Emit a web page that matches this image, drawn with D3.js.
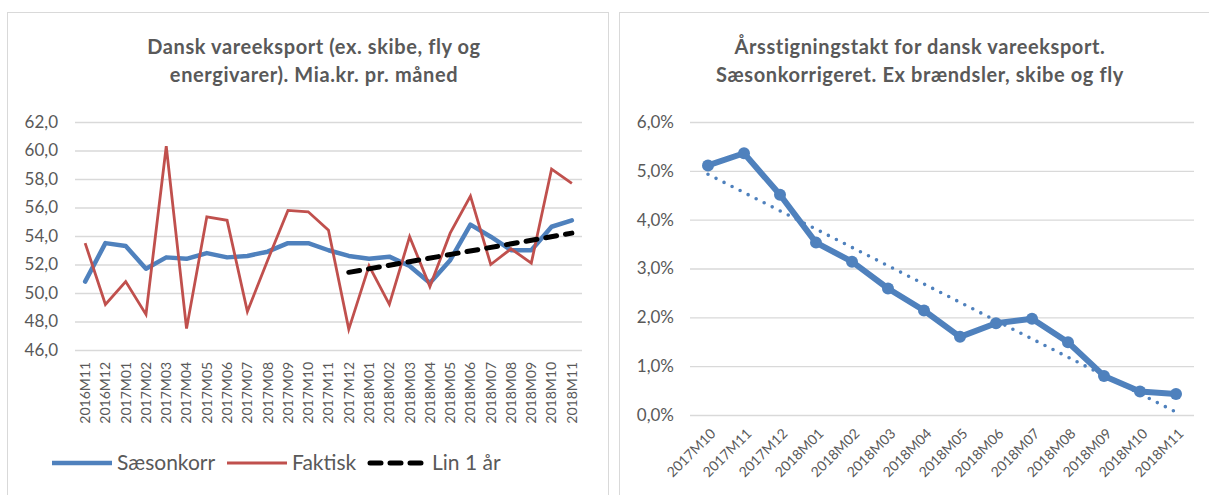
<!DOCTYPE html>
<html><head><meta charset="utf-8">
<script src="https://cdn.jsdelivr.net/npm/d3@7"></script>
<style>
html,body{margin:0;padding:0;background:#fff;}
svg{display:block;font-family:Lato,"Open Sans",sans-serif;}
</style></head>
<body>
<svg id="c" width="1209" height="495"></svg>
<script>
// ---------- data ----------
const months1 = ["2016M11","2016M12","2017M01","2017M02","2017M03","2017M04","2017M05","2017M06","2017M07","2017M08","2017M09","2017M10","2017M11","2017M12","2018M01","2018M02","2018M03","2018M04","2018M05","2018M06","2018M07","2018M08","2018M09","2018M10","2018M11"];
const saesonkorr = [50.8,53.5,53.3,51.7,52.5,52.4,52.8,52.5,52.6,52.9,53.5,53.5,53.0,52.6,52.4,52.55,51.9,50.7,52.3,54.8,53.95,53.0,53.0,54.65,55.1];
const faktisk = [53.5,49.2,50.8,48.5,60.3,47.5,55.35,55.1,48.7,52.3,55.8,55.7,54.4,47.45,51.9,49.2,53.95,50.45,54.2,56.8,52.0,53.1,52.1,58.7,57.7];
const lin1Months = ["2017M12","2018M11"];
const lin1 = [51.45,54.2];
const yTicks1 = [46,48,50,52,54,56,58,60,62];
const title1 = ["Dansk vareeksport (ex. skibe, fly og","energivarer). Mia.kr. pr. måned"];
const legend1 = ["Sæsonkorr","Faktisk","Lin 1 år"];

const months2 = ["2017M10","2017M11","2017M12","2018M01","2018M02","2018M03","2018M04","2018M05","2018M06","2018M07","2018M08","2018M09","2018M10","2018M11"];
const vaekst = [5.11,5.36,4.51,3.53,3.14,2.59,2.14,1.60,1.88,1.97,1.49,0.80,0.48,0.43];
const trendMonths = ["2017M10","2018M11"];
const trend = [4.93,0.06];
const yTicks2 = [0,1,2,3,4,5,6];
const title2 = ["Årsstigningstakt for dansk vareeksport.","Sæsonkorrigeret. Ex brændsler, skibe og fly"];

// ---------- styles ----------
const BLUE = "#4f81bd", RED = "#c0504d", GRID = "#d9d9d9", TXT = "#595959";
const comma = f => s => f(s).replace(".", ",");

const svg = d3.select("#c");

// panels
svg.append("rect").attr("x",7.5).attr("y",12.5).attr("width",601).attr("height",500)
  .attr("fill","#fff").attr("stroke",GRID).attr("stroke-width",1);
svg.append("rect").attr("x",619.5).attr("y",12.5).attr("width",620).attr("height",500)
  .attr("fill","#fff").attr("stroke",GRID).attr("stroke-width",1);

function drawTitle(lines, cx){
  const t = svg.append("text").attr("text-anchor","middle").attr("fill",TXT)
    .attr("font-weight","bold").attr("font-size",20).attr("letter-spacing",0.6);
  lines.forEach((l,i)=> t.append("tspan").attr("x",cx).attr("y",54+i*28).text(l));
}

// ---------- left chart ----------
const x1 = d3.scaleBand().domain(months1).range([75,582]);
const y1 = d3.scaleLinear().domain([46,62]).range([350,122]);
const cx1 = d => x1(d) + x1.bandwidth()/2;

drawTitle(title1, 314);

const gy1 = svg.append("g").attr("transform","translate(75,0)")
  .call(d3.axisLeft(y1).tickValues(yTicks1).tickFormat(comma(d3.format(".1f"))).tickSize(-507).tickPadding(17));
gy1.select(".domain").remove();
gy1.selectAll(".tick line").attr("stroke",GRID).attr("stroke-width",1.3);
gy1.selectAll(".tick text").attr("fill",TXT).attr("font-size",17).attr("font-family","Lato");

const gx1 = svg.append("g").attr("transform","translate(0,350)")
  .call(d3.axisBottom(x1).tickSize(0).tickPadding(0));
gx1.select(".domain").remove();
gx1.selectAll(".tick text").attr("fill",TXT).attr("font-size",14).attr("font-family","Lato")
  .attr("text-anchor","end").attr("transform","translate(0,12) rotate(-90)").attr("dx",0).attr("dy","0.35em").attr("y",0).attr("x",0);

const line1 = d3.line().x((d,i)=>cx1(months1[i])).y(d=>y1(d));
svg.append("path").datum(saesonkorr).attr("d",line1).attr("fill","none")
  .attr("stroke",BLUE).attr("stroke-width",4.5).attr("stroke-linejoin","round").attr("stroke-linecap","round");
svg.append("path").datum(faktisk).attr("d",line1).attr("fill","none")
  .attr("stroke",RED).attr("stroke-width",2.8).attr("stroke-linejoin","miter");
const linL = d3.line().x((d,i)=>cx1(lin1Months[i])).y(d=>y1(d));
svg.append("path").datum(lin1).attr("d",linL).attr("fill","none")
  .attr("stroke","#000").attr("stroke-width",5).attr("stroke-dasharray","11 9").attr("stroke-linecap","round");

// legend left
const lg = svg.append("g");
const legItems = [
  {x:52, color:BLUE, w:4.5, dash:null},
  {x:227, color:RED, w:2.8, dash:null},
  {x:367, color:"#000", w:5, dash:"11 9"}
];
legItems.forEach((it,i)=>{
  lg.append("line").attr("x1",it.x+ (it.dash?3:0)).attr("x2",it.x+60).attr("y1",463).attr("y2",463)
    .attr("stroke",it.color).attr("stroke-width",it.w).attr("stroke-dasharray",it.dash)
    .attr("stroke-linecap",it.dash?"round":"butt");
  lg.append("text").attr("x",it.x+65).attr("y",463).attr("dy","0.35em").attr("fill",TXT)
    .attr("font-size",21).text(legend1[i]);
});

// ---------- right chart ----------
const x2 = d3.scaleBand().domain(months2).range([690,1194]);
const y2 = d3.scaleLinear().domain([0,6]).range([415,122]);
const cx2 = d => x2(d) + x2.bandwidth()/2;

drawTitle(title2, 920);

const gy2 = svg.append("g").attr("transform","translate(690,0)")
  .call(d3.axisLeft(y2).tickValues(yTicks2).tickFormat(d=>d3.format(".1f")(d).replace(".",",")+"%").tickSize(-504).tickPadding(16));
gy2.select(".domain").remove();
gy2.selectAll(".tick line").attr("stroke",GRID).attr("stroke-width",1.3);
gy2.selectAll(".tick text").attr("fill",TXT).attr("font-size",17).attr("font-family","Lato");

const gx2 = svg.append("g").attr("transform","translate(0,415)")
  .call(d3.axisBottom(x2).tickSize(0).tickPadding(0));
gx2.select(".domain").remove();
gx2.selectAll(".tick text").attr("fill",TXT).attr("font-size",14).attr("font-family","Lato")
  .attr("text-anchor","end").attr("transform","translate(5,16) rotate(-45)").attr("dy","0.35em").attr("y",0).attr("x",0);

const trendLine = d3.line().x((d,i)=>cx2(trendMonths[i])).y(d=>y2(d));
svg.append("path").datum(trend).attr("d",trendLine).attr("fill","none")
  .attr("stroke",BLUE).attr("stroke-width",3.6).attr("stroke-dasharray","0 9").attr("stroke-linecap","round");

const line2 = d3.line().x((d,i)=>cx2(months2[i])).y(d=>y2(d));
svg.append("path").datum(vaekst).attr("d",line2).attr("fill","none")
  .attr("stroke",BLUE).attr("stroke-width",6).attr("stroke-linejoin","round");
svg.selectAll("circle.m").data(vaekst).enter().append("circle").attr("class","m")
  .attr("cx",(d,i)=>cx2(months2[i])).attr("cy",d=>y2(d)).attr("r",6).attr("fill",BLUE);
</script>
</body></html>
